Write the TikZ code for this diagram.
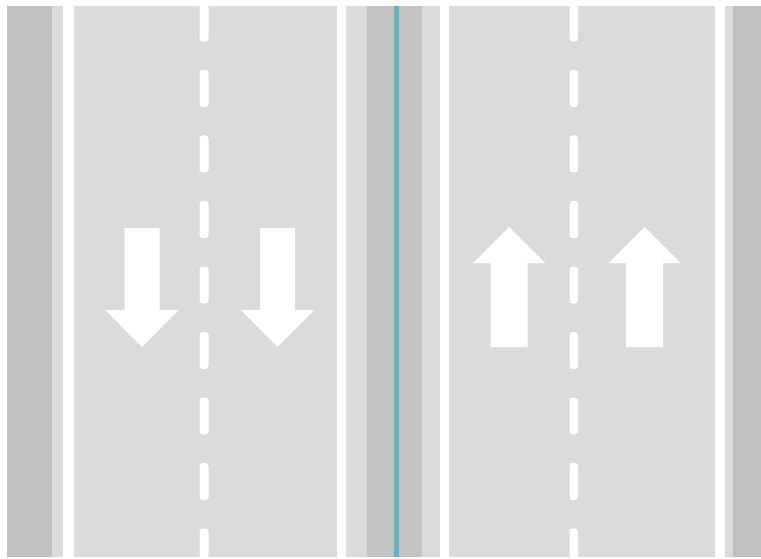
\documentclass[tikz,border=0pt]{standalone}
\begin{document}
\begin{tikzpicture}[x=1pt,y=-1pt]
\definecolor{road}{HTML}{DBDBDB}
\definecolor{shoulder}{HTML}{C0C0C0}
\definecolor{median}{HTML}{C4C3C4}
\definecolor{divider}{HTML}{6AB0C4}
\tikzset{
  mark line/.style={fill=white, draw=none},
  dashbar/.style={fill=white, draw=none, rounded corners=3pt},
  arrowsign/.style={fill=white, draw=none}
}
\useasboundingbox (0,0) rectangle (761,559);
\fill[white] (0,0) rectangle (761,559);
% road surface
\fill[road] (7,6) rectangle (761,557);
% shoulders
\fill[shoulder] (7,6) rectangle (52,557);
\fill[shoulder] (733,6) rectangle (761,557);
% median
\fill[median] (367,6) rectangle (422,557);
\fill[divider] (394,6) rectangle (398.5,557);
% edge lines
\fill[mark line] (63,6) rectangle (74,557);
\fill[mark line] (337,6) rectangle (346,557);
\fill[mark line] (440,6) rectangle (449,557);
\fill[mark line] (715,6) rectangle (725,557);
% lane dashes
\begin{scope}
\clip (0,6) rectangle (761,557);
\foreach \k in {-1,0,...,7}{
  \pgfmathsetmacro{\ya}{70+65.5*\k}
  \pgfmathsetmacro{\yb}{\ya+37}
  \fill[dashbar] (199.5,\ya) rectangle (208.5,\yb);
  \fill[dashbar] (569.5,\ya) rectangle (578,\yb);
}
\end{scope}
% down arrows
\foreach \c in {142,277.5}{
  \fill[arrowsign] (\c-17.5,228) -- (\c+17.5,228) -- (\c+17.5,310) -- (\c+36.5,310)
    -- (\c,347) -- (\c-36.5,310) -- (\c-17.5,310) -- cycle;
}
% up arrows
\foreach \c in {509,644.5}{
  \fill[arrowsign] (\c-18.5,347) -- (\c+18.5,347) -- (\c+18.5,263) -- (\c+36,263)
    -- (\c,227) -- (\c-36,263) -- (\c-18.5,263) -- cycle;
}
\end{tikzpicture}
\end{document}
